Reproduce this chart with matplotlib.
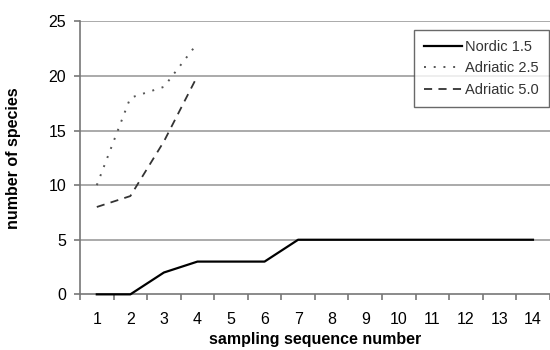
import matplotlib
matplotlib.use("Agg")
import matplotlib.pyplot as plt
from matplotlib.ticker import FixedLocator

plt.rcParams['font.family'] = ['Liberation Sans', 'DejaVu Sans']

samples = list(range(1, 15))
nordic = [0, 0, 2, 3, 3, 3, 5, 5, 5, 5, 5, 5, 5, 5]
adr25_x = [1, 2, 3, 4]
adr25 = [10, 18, 19, 23]
adr50_x = [1, 2, 3, 4]
adr50 = [8, 9, 14, 20]

fig = plt.figure(figsize=(5.5, 3.5), dpi=100)
ax = fig.add_axes([0.1455, 0.159, 0.854, 0.78])

grid_col = '#a4a4a4'
for yv in [5, 10, 15, 20, 25]:
    ax.axhline(yv, color=grid_col, lw=1.3, zorder=0)

ax.plot(samples, nordic, color='black', lw=1.6, label='Nordic 1.5', zorder=4, clip_on=False)
ax.plot(adr25_x, adr25, color='#555555', lw=1.4, linestyle=(0, (1, 4)), label='Adriatic 2.5')
ax.plot(adr50_x, adr50, color='#333333', lw=1.3, linestyle=(0, (4.5, 3.5)), label='Adriatic 5.0')

ax.set_xlim(0.5, 14.5)
ax.set_ylim(0, 25)
ax.set_xticks(samples)
ax.xaxis.set_minor_locator(FixedLocator([i + 0.5 for i in range(0, 15)]))
ax.tick_params(axis='x', which='major', length=0, pad=13, labelsize=11.5)
ax.tick_params(axis='x', which='minor', length=4, color='#777777', width=1.2)
ax.set_yticks([0, 5, 10, 15, 20, 25])
ax.tick_params(axis='y', length=4, color='#777777', width=1.2, labelsize=11.5, pad=6)

for s in ['top', 'right']:
    ax.spines[s].set_visible(False)
for s in ['left', 'bottom']:
    ax.spines[s].set_color('#777777')
    ax.spines[s].set_linewidth(1.2)

ax.set_xlabel('sampling sequence number', fontweight='bold', fontsize=11.5, labelpad=3)
ax.set_ylabel('number of species', fontweight='bold', fontsize=11.5, labelpad=20)

leg = ax.legend(loc='upper right', bbox_to_anchor=(0.998, 0.969), borderaxespad=0,
                fontsize=10.5, frameon=True, fancybox=False, edgecolor='#444444',
                handlelength=2.6, handletextpad=0.2, borderpad=0.7, labelspacing=0.5)
leg.get_frame().set_linewidth(1.0)
for t in leg.get_texts():
    t.set_color('#333333')

fig.savefig('out.png', dpi=100)
